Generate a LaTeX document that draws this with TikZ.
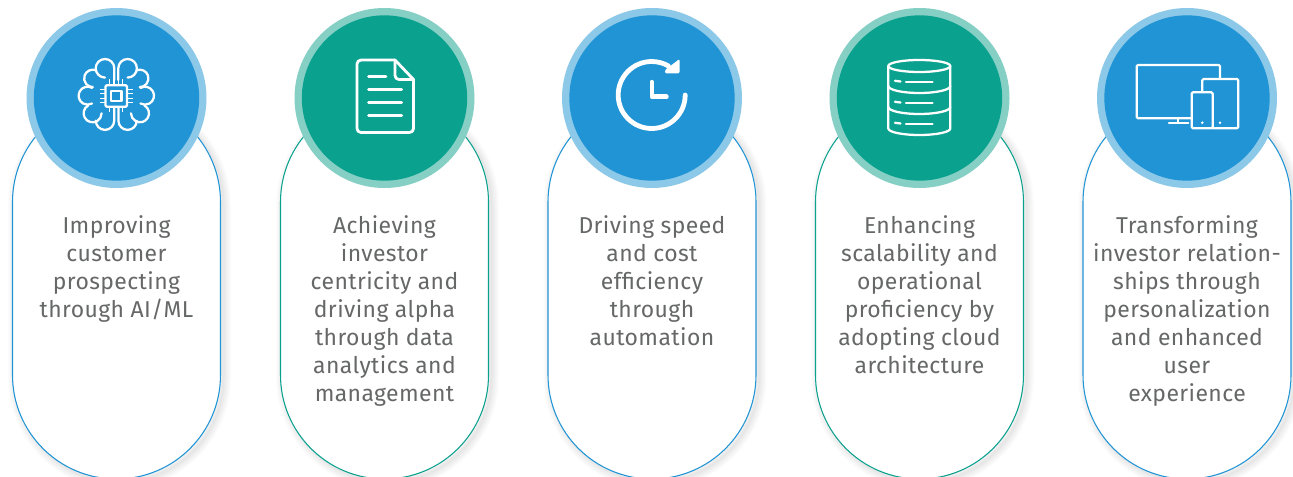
\documentclass[tikz,border=0pt]{standalone}
\usepackage{fontspec}
\setmainfont[LetterSpace=1.8]{Fira Sans}
\definecolor{cblue}{HTML}{2094D4}
\definecolor{cbluel}{HTML}{8CC8E8}
\definecolor{cteal}{HTML}{0BA18F}
\definecolor{ctealL}{HTML}{85CFC5}
\definecolor{ctext}{HTML}{666767}
\tikzset{
  pillline/.style={line width=.8pt,fill=white},
  icon/.style={draw=white,line width=2.1pt,line cap=round,line join=round},
  iconthin/.style={draw=white,line width=1.7pt,line cap=round,line join=round},
  ringnode/.style={circle,inner sep=0pt,minimum size=135pt},
  discnode/.style={circle,inner sep=0pt,minimum size=124pt},
  labelnode/.style={anchor=north,align=center,inner sep=0pt,text=ctext,font=\fontsize{17.2}{21}\selectfont},
}
\newcommand{\pillpath}[1]{(#1-104,202) arc (180:360:104) -- (#1+104,375) arc (0:180:104) -- cycle}
\newcommand{\unit}[5]{%
  % #1 centre x, #2 main colour, #3 light colour, #4 id, #5 label
  \foreach \w in {11,9,7,5,3,1.5}{
    \draw[line width=\w pt,black,opacity=.016,shift={(3,3)}] \pillpath{#1};
  }
  \draw[pillline,draw=#2] \pillpath{#1};
  \node[ringnode,fill=#3] (ring#4) at (#1,98) {};
  \node[discnode,fill=#2] (disc#4) at (#1,98) {};
  \node[labelnode] (label#4) at (#1,215) {#5};
}
\begin{document}
\begin{tikzpicture}[x=.75pt,y=-.75pt]
\useasboundingbox (0,0) rectangle (1293,477);
\clip (0,0) rectangle (1293,477);
\fill[white] (0,0) rectangle (1293,477);
\unit{116.5}{cblue}{cbluel}{1}{Improving\\customer\\prospecting\\through AI/ML}
\unit{384.5}{cteal}{ctealL}{2}{Achieving\\investor\\centricity and\\driving alpha\\through data\\analytics and\\management}
\unit{652}{cblue}{cbluel}{3}{Driving speed\\and cost\\efficiency\\through\\automation}
\unit{919.5}{cteal}{ctealL}{4}{Enhancing\\scalability and\\operational\\proficiency by\\adopting cloud\\architecture}
\unit{1187}{cblue}{cbluel}{5}{Transforming\\investor relation-\\ships through\\personalization\\and enhanced\\user\\experience}
% brain icon
\begin{scope}[shift={(116.3,96)}]
  \foreach \s in {1,-1}{
  \begin{scope}[xscale=\s]
    \draw[iconthin] (2,-16) -- (2,-27.7) arc (180:450:9.3);
    \draw[iconthin] (20.5,-25.8) arc (250:450:8.7);
    \draw[iconthin] (24.2,-8.1) arc (240:480:9);
    \draw[iconthin] (28.2,9.5) arc (300:540:9);
    \draw[iconthin] (20.5,24.7) arc (0:180:9.2) -- (2.1,12);
  \end{scope}
  }
  \draw[iconthin,rounded corners=1pt] (-10.8,-10.8) rectangle (10.8,10.8);
  \draw[iconthin] (-5.2,-5.2) rectangle (5.2,5.2);
  \foreach \p in {-6.5,-2.2,2.2,6.5}{
    \draw[white,line width=1pt] (\p,-11) -- (\p,-16.5);
    \draw[white,line width=1pt] (\p,11) -- (\p,16.5);
    \draw[white,line width=1pt] (-11,\p) -- (-16.5,\p);
    \draw[white,line width=1pt] (11,\p) -- (16.5,\p);
  }
\end{scope}
% document icon
\draw[icon,rounded corners=3pt] (395,60) -- (357,60) -- (357,132.5) -- (413.5,132.5) -- (413.5,79.5);
\draw[icon] (395,60) -- (413.5,79.5);
\draw[icon,rounded corners=3pt] (395,60) -- (395,79.5) -- (413.5,79.5);
\foreach \yy/\xe in {76.7/386,89.7/401.7,102.7/401.7,115.7/401.7}{
  \draw[icon] (368.5,\yy) -- (\xe,\yy);
}
% clock icon
\draw[white,line width=3.6pt,line cap=round] (685.2,95) arc (0:300:33.5);
\draw[icon,line width=3.3pt] (651.7,82) -- (651.7,96.7) -- (666.5,96.7);
\fill[white,rounded corners=1pt] (679.5,59) -- (679.5,73.5) -- (665,73.5) -- (665,70) -- cycle;
% database icon
\draw[iconthin] (919.3,66) ellipse (31 and 6);
\draw[iconthin] (888.3,66) -- (888.3,128.5) arc (180:0:31 and 6.5) -- (950.3,66);
\draw[iconthin] (888.3,86) arc (180:0:31 and 7);
\draw[iconthin] (888.3,107) arc (180:0:31 and 7);
\foreach \yy in {81.5,102.5,123.5}{
  \draw[iconthin] (895,\yy-.7) -- (900.5,\yy);
  \draw[iconthin] (906,\yy+.5) -- (932.5,\yy+.5);
}
% devices icon
\draw[iconthin,rounded corners=1pt] (1220,78.5) -- (1220,65) -- (1136.7,65) -- (1136.7,118.3) -- (1191.5,118.3);
\draw[iconthin] (1178.3,118.3) -- (1178.3,122.7);
\draw[iconthin] (1169,122.7) -- (1188.3,122.7);
\draw[iconthin,rounded corners=1pt] (1202.3,92) -- (1202.3,79) -- (1238.3,79) -- (1238.3,128.3) -- (1212.7,128.3);
\draw[iconthin,rounded corners=1pt] (1191.7,92.3) rectangle (1212.7,128.3);
\fill[white] (1202.3,122.7) circle (1.4);
\fill[white] (1220,122.7) circle (1.4);
\end{tikzpicture}
\end{document}
